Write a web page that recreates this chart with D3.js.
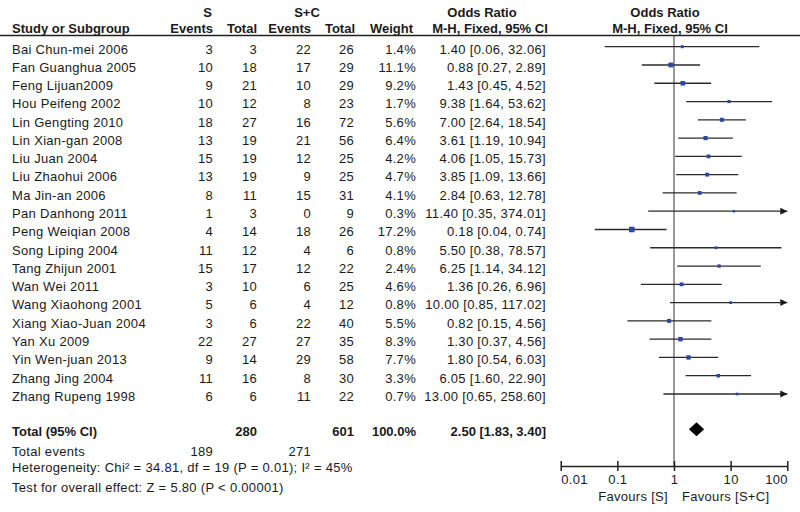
<!DOCTYPE html>
<html>
<head>
<meta charset="utf-8">
<script src="https://cdn.jsdelivr.net/npm/d3@7"></script>
<style>
  body { margin: 0; background: #fff; }
  svg text { font-family: "Liberation Sans", Arial, sans-serif; font-size: 13px; fill: #1a1a1a; letter-spacing: 0.3px; }
  svg text.b { font-weight: bold; letter-spacing: 0; }
</style>
</head>
<body>
<div id="chart"></div>
<script>
// study rows
const studies = ["Bai Chun-mei 2006", "Fan Guanghua 2005", "Feng Lijuan2009", "Hou Peifeng 2002",
  "Lin Gengting 2010", "Lin Xian-gan 2008", "Liu Juan 2004", "Liu Zhaohui 2006", "Ma Jin-an 2006",
  "Pan Danhong 2011", "Peng Weiqian 2008", "Song Liping 2004", "Tang Zhijun 2001", "Wan Wei 2011",
  "Wang Xiaohong 2001", "Xiang Xiao-Juan 2004", "Yan Xu 2009", "Yin Wen-juan 2013", "Zhang Jing 2004",
  "Zhang Rupeng 1998"];
const sEvents  = [3, 10, 9, 10, 18, 13, 15, 13, 8, 1, 4, 11, 15, 3, 5, 3, 22, 9, 11, 6];
const sTotal   = [3, 18, 21, 12, 27, 19, 19, 19, 11, 3, 14, 12, 17, 10, 6, 6, 27, 14, 16, 6];
const scEvents = [22, 17, 10, 8, 16, 21, 12, 9, 15, 0, 18, 4, 12, 6, 4, 22, 27, 29, 8, 11];
const scTotal  = [26, 29, 29, 23, 72, 56, 25, 25, 31, 9, 26, 6, 22, 25, 12, 40, 35, 58, 30, 22];
const weights  = [1.4, 11.1, 9.2, 1.7, 5.6, 6.4, 4.2, 4.7, 4.1, 0.3, 17.2, 0.8, 2.4, 4.6, 0.8, 5.5, 8.3, 7.7, 3.3, 0.7];
const oddsRatio = [1.40, 0.88, 1.43, 9.38, 7.00, 3.61, 4.06, 3.85, 2.84, 11.40, 0.18, 5.50, 6.25, 1.36, 10.00, 0.82, 1.30, 1.80, 6.05, 13.00];
const ciLow  = [0.06, 0.27, 0.45, 1.64, 2.64, 1.19, 1.05, 1.09, 0.63, 0.35, 0.04, 0.38, 1.14, 0.26, 0.85, 0.15, 0.37, 0.54, 1.60, 0.65];
const ciHigh = [32.06, 2.89, 4.52, 53.62, 18.54, 10.94, 15.73, 13.66, 12.78, 374.01, 0.74, 78.57, 34.12, 6.96, 117.02, 4.56, 4.56, 6.03, 22.90, 258.60];

// pooled result
const total = { sTotal: 280, scTotal: 601, sEvents: 189, scEvents: 271, weight: "100.0%", or: 2.50, lo: 1.83, hi: 3.40 };
const tickValues = [0.01, 0.1, 1, 10, 100];
const tickLabels = ["0.01", "0.1", "1", "10", "100"];
const notes = ["Heterogeneity: Chi\u00B2 = 34.81, df = 19 (P = 0.01); I\u00B2 = 45%",
  "Test for overall effect: Z = 5.80 (P < 0.00001)"];

const width = 800, height = 512;
const rows = studies.map((name, i) => ({
  name, i, sEv: sEvents[i], sTot: sTotal[i], scEv: scEvents[i], scTot: scTotal[i],
  w: weights[i], or: oddsRatio[i], lo: ciLow[i], hi: ciHigh[i]
}));

const svg = d3.select('#chart').append('svg')
  .attr('width', width).attr('height', height);

const x = d3.scaleLog().domain([0.01, 100]).range([560.7, 787.3]);
const y = d3.scaleLinear().domain([0, 19]).range([46.7, 394]);
const axisY = 466;
const totalY = y(20.93);
const fmt = d3.format('.2f');

const txt = (t, px, py, anchor, bold) => svg.append('text')
  .attr('x', px).attr('y', py).attr('text-anchor', anchor || 'start')
  .attr('class', bold ? 'b' : null).text(t);

// headers
txt('S', 207.5, 17, 'middle', true);
txt('S+C', 307, 17, 'middle', true);
txt('Odds Ratio', 482, 17, 'middle', true);
txt('Odds Ratio', 665, 17, 'middle', true);
txt('Study or Subgroup', 12, 33, 'start', true);
txt('Events', 213, 33, 'end', true);
txt('Total', 257, 33, 'end', true);
txt('Events', 311, 33, 'end', true);
txt('Total', 355, 33, 'end', true);
txt('Weight', 413, 33, 'end', true);
txt('M-H, Fixed, 95% CI', 490, 33, 'middle', true);
txt('M-H, Fixed, 95% CI', 670, 33, 'middle', true);

svg.append('line').attr('x1', 0).attr('x2', width).attr('y1', 35.5).attr('y2', 35.5)
  .attr('stroke', '#222').attr('stroke-width', 1.6);

// line of no effect
svg.append('line').attr('x1', x(1)).attr('x2', x(1)).attr('y1', 36).attr('y2', axisY)
  .attr('stroke', '#333').attr('stroke-width', 1);

// table rows
const row = svg.selectAll('.row').data(rows).enter().append('g').attr('class', 'row')
  .attr('transform', d => `translate(0,${y(d.i) + 6.8})`);
const cols = [
  { x: 12, a: 'start', f: d => d.name },
  { x: 213, a: 'end', f: d => d.sEv },
  { x: 257, a: 'end', f: d => d.sTot },
  { x: 311, a: 'end', f: d => d.scEv },
  { x: 354, a: 'end', f: d => d.scTot },
  { x: 416, a: 'end', f: d => d.w.toFixed(1) + '%' },
  { x: 546, a: 'end', f: d => `${fmt(d.or)} [${fmt(d.lo)}, ${fmt(d.hi)}]` }
];
cols.forEach(c => {
  row.append('text').attr('x', c.x).attr('text-anchor', c.a).text(c.f);
});

// confidence intervals
const clampX = v => x(Math.max(0.01, Math.min(100, v)));
const ci = svg.selectAll('.ci').data(rows).enter().append('g').attr('class', 'ci');
ci.append('line')
  .attr('x1', d => clampX(d.lo)).attr('x2', d => clampX(d.hi))
  .attr('y1', d => y(d.i)).attr('y2', d => y(d.i))
  .attr('stroke', '#2b2b2b').attr('stroke-width', 1.3);
ci.filter(d => d.hi > 100).append('path')
  .attr('d', d => {
    const tx = x(100), ty = y(d.i);
    return `M${tx},${ty}L${tx - 7},${ty - 3.5}L${tx - 7},${ty + 3.5}Z`;
  })
  .attr('fill', '#1a1a1a');
ci.append('rect')
  .each(function (d) {
    const s = 2 + 0.85 * Math.sqrt(d.w);
    d3.select(this).attr('x', x(d.or) - s / 2).attr('y', y(d.i) - s / 2)
      .attr('width', s).attr('height', s);
  })
  .attr('fill', '#2a46a6');

// totals
txt('Total (95% CI)', 12, totalY + 7, 'start', true);
txt(total.sTotal, 257, totalY + 7, 'end', true);
txt(total.scTotal, 354, totalY + 7, 'end', true);
txt(total.weight, 416, totalY + 7, 'end', true);
txt(`${fmt(total.or)} [${fmt(total.lo)}, ${fmt(total.hi)}]`, 546, totalY + 7, 'end', true);
svg.append('path')
  .attr('d', `M${x(total.lo)},${totalY}L${x(total.or)},${totalY - 7}L${x(total.hi)},${totalY}L${x(total.or)},${totalY + 7}Z`)
  .attr('fill', '#000');

txt('Total events', 12, 456, 'start');
txt(total.sEvents, 213, 456, 'end');
txt(total.scEvents, 311, 456, 'end');
txt(notes[0], 12, 472, 'start');
txt(notes[1], 12, 492, 'start');

// axis
const axis = svg.append('g').attr('transform', `translate(0,${axisY})`)
  .call(d3.axisBottom(x).tickValues(tickValues).tickFormat((d, i) => tickLabels[i]).tickSizeOuter(0));
axis.select('.domain').attr('stroke', '#222').attr('stroke-width', 1.5);
axis.selectAll('.tick line').attr('y1', -5).attr('y2', 5).attr('stroke', '#222').attr('stroke-width', 1.5);
axis.selectAll('.tick text')
  .attr('y', 18).attr('dy', null)
  .attr('font-family', null).attr('font-size', null)
  .attr('fill', null)
  .attr('text-anchor', (d, i) => i === 0 ? 'start' : i === tickValues.length - 1 ? 'end' : 'middle');

txt('Favours [S]', x(1) - 6, 501, 'end');
txt('Favours [S+C]', x(1) + 8, 501, 'start');
</script>
</body>
</html>
